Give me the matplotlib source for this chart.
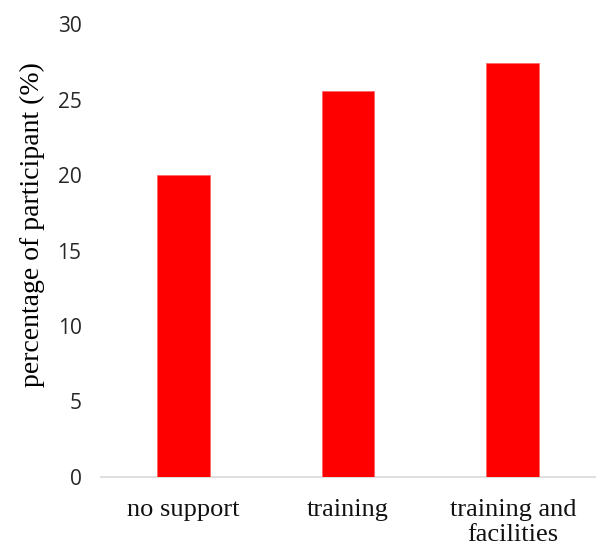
import numpy as np
import matplotlib.pyplot as plt

categories = ["no support", "training", "training and\nfacilities"]
values = [20.0, 25.6, 27.4]
yticks = [0, 5, 10, 15, 20, 25, 30]

fig = plt.figure(figsize=(6.08, 5.5), dpi=100)
ax = fig.add_axes([0.166, 0.133, 0.813, 0.823])

x = np.arange(len(categories))
ax.bar(x, values, width=0.32, color="#ff0000", edgecolor="#ff6666", linewidth=0.6, zorder=3)

ax.set_xlim(-0.5, len(categories) - 0.5)
ax.set_ylim(0, 30)
ax.set_yticks(yticks)
ax.set_yticklabels([str(t) for t in yticks], family="Open Sans", fontsize=15, color="#262626")
ax.set_xticks(x)
ax.set_xticklabels(categories, family="Liberation Serif", fontsize=19, color="#111111", linespacing=1.2)
ax.tick_params(axis="both", length=0)
ax.tick_params(axis="y", pad=14)
ax.tick_params(axis="x", pad=16)

for s in ["top", "right", "left"]:
    ax.spines[s].set_visible(False)
ax.spines["bottom"].set_color("#d9d9d9")
ax.spines["bottom"].set_linewidth(1.2)

ax.set_ylabel("percentage of participant (%)", family="Liberation Serif", fontsize=20)
ax.yaxis.set_label_coords(-0.113, 0.558)

fig.savefig("out.png", dpi=100)
